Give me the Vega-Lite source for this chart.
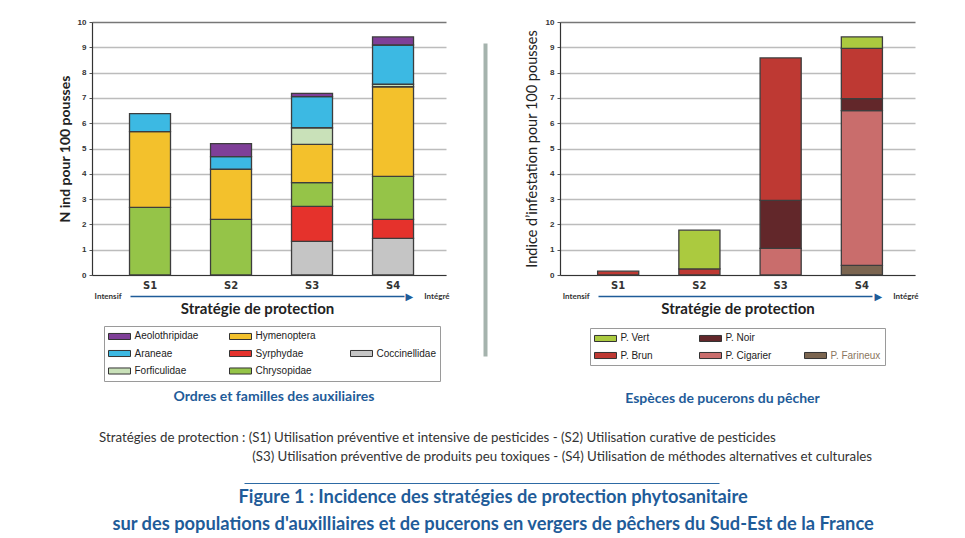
{
  "$schema": "https://vega.github.io/schema/vega-lite/v6.json",
  "background": "white",
  "padding": {"left": 58, "top": 18, "right": 10, "bottom": 0},
  "config": {
    "view": {"stroke": null},
    "font": "Liberation Sans"
  },
  "title": {
    "text": ["Figure 1 : Incidence des stratégies de protection phytosanitaire", "sur des populations d'auxilliaires et de pucerons en vergers de pêchers du Sud-Est de la France"],
    "orient": "bottom", "anchor": "middle", "font": "Lato", "fontSize": 18.3, "fontWeight": "bold",
    "color": "#1f5c99", "lineHeight": 27, "offset": 5, "dx": 5
  },
  "spacing": 24,
  "vconcat": [
    {
      "bounds": "flush",
      "spacing": 39,
      "resolve": {"scale": {"x": "independent", "y": "independent", "color": "independent"}, "legend": {"color": "independent"}},
      "hconcat": [
        {
          "width": 354, "height": 253,
          "title": {"text": "Ordres et familles des auxiliaires", "orient": "bottom", "frame": "group", "offset": 8, "dx": 5, "anchor": "middle", "font": "Lato", "fontSize": 14, "fontWeight": "bold", "color": "#1f5c99"},
          "resolve": {"scale": {"x": "independent"}, "axis": {"x": "independent"}},
          "layer": [
            {
              "data": {"values": [
                {"strategie": "S1", "famille": "Chrysopidae", "valeur": 2.67},
                {"strategie": "S1", "famille": "Hymenoptera", "valeur": 3.0},
                {"strategie": "S1", "famille": "Araneae", "valeur": 0.71},
                {"strategie": "S2", "famille": "Chrysopidae", "valeur": 2.2},
                {"strategie": "S2", "famille": "Hymenoptera", "valeur": 1.98},
                {"strategie": "S2", "famille": "Araneae", "valeur": 0.5},
                {"strategie": "S2", "famille": "Aeolothripidae", "valeur": 0.51},
                {"strategie": "S3", "famille": "Coccinellidae", "valeur": 1.33},
                {"strategie": "S3", "famille": "Syrphydae", "valeur": 1.38},
                {"strategie": "S3", "famille": "Chrysopidae", "valeur": 0.94},
                {"strategie": "S3", "famille": "Hymenoptera", "valeur": 1.51},
                {"strategie": "S3", "famille": "Forficulidae", "valeur": 0.66},
                {"strategie": "S3", "famille": "Araneae", "valeur": 1.23},
                {"strategie": "S3", "famille": "Aeolothripidae", "valeur": 0.13},
                {"strategie": "S4", "famille": "Coccinellidae", "valeur": 1.45},
                {"strategie": "S4", "famille": "Syrphydae", "valeur": 0.75},
                {"strategie": "S4", "famille": "Chrysopidae", "valeur": 1.7},
                {"strategie": "S4", "famille": "Hymenoptera", "valeur": 3.54},
                {"strategie": "S4", "famille": "Forficulidae", "valeur": 0.1},
                {"strategie": "S4", "famille": "Araneae", "valeur": 1.55},
                {"strategie": "S4", "famille": "Aeolothripidae", "valeur": 0.32}
              ]},
              "transform": [{"calculate": "indexof(['Coccinellidae','Syrphydae','Chrysopidae','Hymenoptera','Forficulidae','Araneae','Aeolothripidae'], datum.famille)", "as": "rang"}],
              "mark": {"type": "bar", "stroke": "#3d3d3d", "strokeWidth": 1.3},
              "encoding": {
                "x": {"field": "strategie", "type": "nominal",
                  "scale": {"domain": ["S1", "S2", "S3", "S4"], "paddingInner": 0.494, "paddingOuter": 0.432, "align": 0.536},
                  "axis": {"orient": "bottom", "title": "Stratégie de protection", "titleX": 165, "labelAngle": 0, "ticks": false, "domainColor": "#333", "domainWidth": 1.2,
                    "labelFont": "DejaVu Sans", "labelFontWeight": "bold", "labelFontSize": 10, "labelColor": "#333", "labelPadding": 5,
                    "titleFont": "Lato", "titleFontSize": 15, "titleFontWeight": "bold", "titleColor": "#222", "titlePadding": 11, "grid": false}},
                "y": {"field": "valeur", "type": "quantitative", "stack": "zero",
                  "scale": {"domain": [0, 10], "nice": false},
                  "axis": {"values": [0, 1, 2, 3, 4, 5, 6, 7, 8, 9, 10], "title": "N ind pour 100 pousses",
                    "titleFont": "Lato", "titleFontSize": 14, "titleFontWeight": "bold", "titleColor": "#222", "titlePadding": 5,
                    "labelFont": "Liberation Sans", "labelFontSize": 8, "labelFontWeight": "bold", "labelColor": "#333", "labelPadding": 3,
                    "tickSize": 3, "tickColor": "#555", "domainColor": "#333", "domainWidth": 1.2,
                    "grid": true, "gridColor": {"condition": {"test": "datum.value === 10", "value": "#777"}, "value": "#bcbcbc"}, "gridWidth": 1.3}},
                "color": {"field": "famille", "type": "nominal",
                  "scale": {"domain": ["Aeolothripidae", "Hymenoptera", " ", "Araneae", "Syrphydae", "Coccinellidae", "Forficulidae", "Chrysopidae"],
                    "range": ["#7f3f98", "#f3c12c", "rgba(0,0,0,0)", "#3cb9e3", "#e5322c", "#c5c5c5", "#c9e1b9", "#95c448"]},
                  "legend": {"orient": "none", "legendX": 12, "legendY": 304, "direction": "horizontal", "columns": 3, "title": null,
                    "symbolType": "M-1,-0.55H3V0.55H-1Z", "symbolSize": 121, "symbolStrokeWidth": 1, "symbolStrokeColor": "#333",
                    "labelFont": "Liberation Sans", "labelFontSize": 10, "labelColor": "#222", "labelOffset": 14.5,
                    "columnPadding": 28, "rowPadding": 5.5, "padding": 4, "strokeColor": "#9a9a9a", "fillColor": "white", "gridAlign": "all",
                    "encode": {"symbols": {"update": {"stroke": {"signal": "trim(datum.value) === '' ? 'transparent' : '#333'"}}}}}},
                "order": {"field": "rang", "type": "quantitative"}
              }
            },
            {
              "data": {"values": []},
              "mark": {"type": "point", "opacity": 0},
              "encoding": {
                "x": {"field": "f", "type": "quantitative", "scale": {"domain": [0, 100], "nice": false, "zero": false},
                  "axis": {"orient": "bottom", "offset": 21, "title": null, "grid": false, "ticks": false, "tickSize": 0,
                    "values": [4.4, 89.5, 97.3], "labelExpr": "datum.value < 10 ? 'Intensif' : datum.value < 95 ? '▶' : 'Intégré'",
                    "labelFlush": false, "labelOverlap": false, "labelBound": false, "labelAlign": "center", "labelBaseline": "middle", "labelPadding": 0,
                    "labelFont": {"condition": {"test": "datum.value > 80 && datum.value < 95", "value": "DejaVu Sans"}, "value": "Lato"},
                    "labelFontSize": {"condition": {"test": "datum.value > 80 && datum.value < 95", "value": 10}, "value": 8},
                    "labelFontWeight": "bold",
                    "labelColor": {"condition": {"test": "datum.value > 80 && datum.value < 95", "value": "#1f5c99"}, "value": "#333"},
                    "domain": true, "domainColor": "#1f5c99", "domainWidth": 1.5, "domainDash": [0, 38, 274, 100]}}
              }
            }
          ]
        },
        {
          "width": 36, "height": 334,
          "data": {"values": []},
          "mark": {"type": "point", "opacity": 0},
          "encoding": {
            "y": {"field": "s", "type": "quantitative", "scale": {"domain": [0, 1]},
              "axis": {"title": null, "labels": false, "ticks": false, "grid": false, "domain": true, "domainColor": "#a5b3ad", "domainWidth": 4, "domainDash": [313, 200]}}
          }
        },
        {
          "width": 355, "height": 253,
          "title": {"text": "Espèces de pucerons du pêcher", "orient": "bottom", "frame": "group", "offset": 26, "dx": -15, "anchor": "middle", "font": "Lato", "fontSize": 14, "fontWeight": "bold", "color": "#1f5c99"},
          "resolve": {"scale": {"x": "independent"}, "axis": {"x": "independent"}},
          "layer": [
            {
              "data": {"values": [
                {"strategie": "S1", "espece": "P. Brun", "valeur": 0.15},
                {"strategie": "S2", "espece": "P. Brun", "valeur": 0.24},
                {"strategie": "S2", "espece": "P. Vert", "valeur": 1.53},
                {"strategie": "S3", "espece": "P. Cigarier", "valeur": 1.05},
                {"strategie": "S3", "espece": "P. Noir", "valeur": 1.9},
                {"strategie": "S3", "espece": "P. Brun", "valeur": 5.63},
                {"strategie": "S4", "espece": "P. Farineux", "valeur": 0.38},
                {"strategie": "S4", "espece": "P. Cigarier", "valeur": 6.12},
                {"strategie": "S4", "espece": "P. Noir", "valeur": 0.47},
                {"strategie": "S4", "espece": "P. Brun", "valeur": 1.99},
                {"strategie": "S4", "espece": "P. Vert", "valeur": 0.45}
              ]},
              "transform": [{"calculate": "indexof(['P. Farineux','P. Cigarier','P. Noir','P. Brun','P. Vert'], datum.espece)", "as": "rang"}],
              "mark": {"type": "bar", "stroke": "#3d3d3d", "strokeWidth": 1.3},
              "encoding": {
                "x": {"field": "strategie", "type": "nominal",
                  "scale": {"domain": ["S1", "S2", "S3", "S4"], "paddingInner": 0.494, "paddingOuter": 0.432, "align": 0.536},
                  "axis": {"orient": "bottom", "title": "Stratégie de protection", "labelAngle": 0, "ticks": false, "domainColor": "#333", "domainWidth": 1.2,
                    "labelFont": "DejaVu Sans", "labelFontWeight": "bold", "labelFontSize": 10, "labelColor": "#333", "labelPadding": 5,
                    "titleFont": "Lato", "titleFontSize": 15, "titleFontWeight": "bold", "titleColor": "#222", "titlePadding": 11, "grid": false}},
                "y": {"field": "valeur", "type": "quantitative", "stack": "zero",
                  "scale": {"domain": [0, 10], "nice": false},
                  "axis": {"values": [0, 1, 2, 3, 4, 5, 6, 7, 8, 9, 10], "title": "Indice d’infestation pour 100 pousses",
                    "titleFont": "Lato", "titleFontSize": 14.5, "titleFontWeight": "normal", "titleColor": "#222", "titlePadding": 6,
                    "labelFont": "Liberation Sans", "labelFontSize": 8, "labelFontWeight": "bold", "labelColor": "#333", "labelPadding": 3,
                    "tickSize": 3, "tickColor": "#555", "domainColor": "#333", "domainWidth": 1.2,
                    "grid": true, "gridColor": {"condition": {"test": "datum.value === 10", "value": "#777"}, "value": "#bcbcbc"}, "gridWidth": 1.3}},
                "color": {"field": "espece", "type": "nominal",
                  "scale": {"domain": ["P. Vert", "P. Noir", " ", "P. Brun", "P. Cigarier", "P. Farineux"],
                    "range": ["#abca3f", "#62272a", "rgba(0,0,0,0)", "#be3933", "#c96d6c", "#7b6550"]},
                  "legend": {"orient": "none", "legendX": 30, "legendY": 306, "direction": "horizontal", "columns": 3, "title": null,
                    "symbolType": "M-1,-0.55H3V0.55H-1Z", "symbolSize": 121, "symbolStrokeWidth": 1, "symbolStrokeColor": "#333",
                    "labelFont": "Liberation Sans", "labelFontSize": 10, "labelColor": "#222", "labelOffset": 14.5,
                    "columnPadding": 26, "rowPadding": 5.5, "padding": 4, "strokeColor": "#9a9a9a", "fillColor": "white", "gridAlign": "all",
                    "encode": {
                      "symbols": {"update": {"stroke": {"signal": "trim(datum.value) === '' ? 'transparent' : '#333'"}}},
                      "labels": {"update": {"fill": {"signal": "datum.value === 'P. Farineux' ? '#8b7660' : '#222'"}}}
                    }}},
                "order": {"field": "rang", "type": "quantitative"}
              }
            },
            {
              "data": {"values": []},
              "mark": {"type": "point", "opacity": 0},
              "encoding": {
                "x": {"field": "f", "type": "quantitative", "scale": {"domain": [0, 100], "nice": false, "zero": false},
                  "axis": {"orient": "bottom", "offset": 21, "title": null, "grid": false, "ticks": false, "tickSize": 0,
                    "values": [4.4, 89.5, 97.3], "labelExpr": "datum.value < 10 ? 'Intensif' : datum.value < 95 ? '▶' : 'Intégré'",
                    "labelFlush": false, "labelOverlap": false, "labelBound": false, "labelAlign": "center", "labelBaseline": "middle", "labelPadding": 0,
                    "labelFont": {"condition": {"test": "datum.value > 80 && datum.value < 95", "value": "DejaVu Sans"}, "value": "Lato"},
                    "labelFontSize": {"condition": {"test": "datum.value > 80 && datum.value < 95", "value": 10}, "value": 8},
                    "labelFontWeight": "bold",
                    "labelColor": {"condition": {"test": "datum.value > 80 && datum.value < 95", "value": "#1f5c99"}, "value": "#333"},
                    "domain": true, "domainColor": "#1f5c99", "domainWidth": 1.5, "domainDash": [0, 38, 274, 100]}}
              }
            }
          ]
        }
      ]
    },
    {
      "width": 662, "height": 1,
      "data": {"values": []},
      "mark": {"type": "point", "opacity": 0},
      "encoding": {
        "x": {"field": "l", "type": "quantitative", "scale": {"domain": [0, 1]},
          "axis": {"orient": "top", "title": null, "labels": false, "ticks": false, "grid": false, "domain": true, "domainColor": "#2d6aa4", "domainWidth": 1, "domainDash": [0, 152, 475, 1000]}}
      },
      "title": {
        "text": ["Stratégies de protection : (S1) Utilisation préventive et intensive de pesticides - (S2) Utilisation curative de pesticides",
          "\u200b\u00a0\u00a0\u00a0\u00a0\u00a0\u00a0\u00a0\u00a0\u00a0\u00a0\u00a0\u00a0\u00a0\u00a0\u00a0\u00a0\u00a0\u00a0\u00a0\u00a0\u00a0\u00a0\u00a0\u00a0\u00a0\u00a0\u00a0\u00a0\u00a0\u00a0\u00a0\u00a0\u00a0\u00a0\u00a0\u00a0\u00a0\u00a0\u00a0\u00a0\u00a0\u00a0\u00a0\u00a0\u00a0(S3) Utilisation préventive de produits peu toxiques - (S4) Utilisation de méthodes alternatives et culturales"],
        "orient": "top", "anchor": "start", "frame": "group", "dx": 7, "offset": 20,
        "font": "Lato", "fontSize": 13.3, "fontWeight": "normal", "color": "#333", "lineHeight": 19
      }
    }
  ]
}
